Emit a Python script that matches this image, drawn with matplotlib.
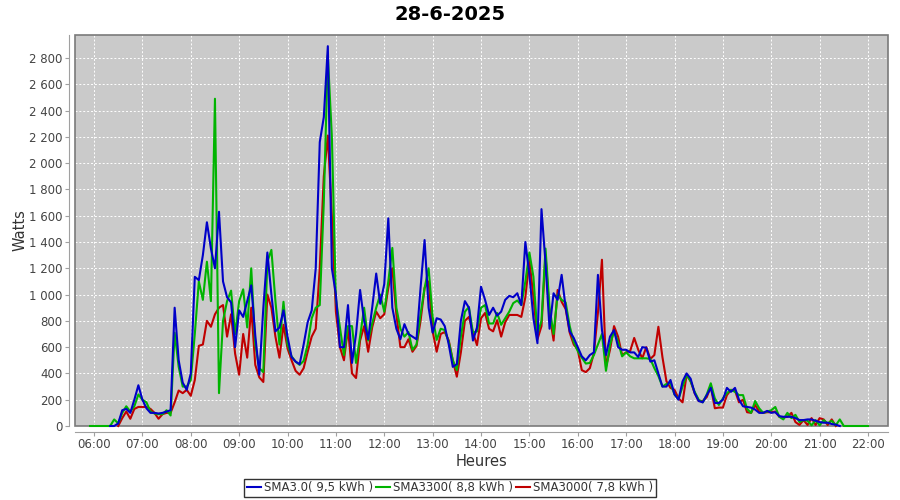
import numpy as np
import matplotlib
matplotlib.use("Agg")
import matplotlib.pyplot as plt
from matplotlib.patches import Rectangle
from matplotlib.ticker import FuncFormatter, MultipleLocator

title = "28-6-2025"
labels = ["SMA3.0( 9,5 kWh )", "SMA3300( 8,8 kWh )", "SMA3000( 7,8 kWh )"]
colors = ["#0000c8", "#00b400", "#c00000"]

# 5-minute samples, first sample at the start time (hours)
blue_start = 6 + 20 / 60
blue = [0, 0, 20, 120, 130, 100, 200, 310,
        200, 135, 100, 100, 95, 100, 110, 120, 900, 500, 330, 275,
        400, 1135, 1110, 1300, 1550, 1350, 1200, 1630, 1100, 980, 940, 600,
        880, 830, 950, 1070, 690, 390, 900, 1320, 1000, 720, 750, 880,
        680, 525, 490, 470, 620, 790, 880, 1200, 2160, 2350, 2890, 1200,
        1000, 600, 600, 920, 480, 700, 1035, 800, 660, 900, 1160, 930,
        1080, 1580, 900, 740, 660, 775, 700, 680, 660, 1050, 1415, 900,
        710, 820, 810, 760, 620, 450, 470, 800, 950, 900, 650, 750,
        1060, 960, 845, 900, 840, 870, 960, 990, 980, 1010, 920, 1400,
        1150, 820, 630, 1650, 1240, 740, 1010, 960, 1150, 900, 720, 670,
        600, 530, 500, 540, 560, 1150, 730, 540, 680, 730, 600, 580,
        580, 560, 560, 525, 600, 595, 490, 500, 400, 300, 300, 350,
        240, 200, 340, 400, 360, 250, 190, 180, 235, 290, 175, 175,
        200, 290, 260, 290, 200, 150, 145, 140, 125, 100, 100, 115,
        100, 105, 75, 70, 70, 70, 60, 45, 45, 50, 50, 40,
        30, 25, 25, 15, 10, 0]

green_start = 5 + 55 / 60
green = [0,
         0, 0, 0, 0, 0, 50, 20, 100, 150, 110, 150, 240,
         200, 180, 110, 95, 90, 90, 120, 80, 710, 450, 300, 300,
         350, 700, 1100, 960, 1250, 950, 2490, 250, 800, 950, 1030, 700,
         950, 1040, 750, 1200, 620, 440, 410, 1250, 1340, 950, 620, 945,
         620, 530, 490, 465, 495, 620, 820, 900, 920, 1700, 2820, 2200,
         970, 750, 540, 760, 760, 480, 680, 900, 650, 780, 900, 1000,
         870, 1100, 1355, 900, 740, 680, 715, 580, 620, 850, 1050, 1200,
         830, 655, 740, 730, 640, 500, 425, 680, 870, 905, 710, 720,
         900, 920, 780, 780, 860, 770, 820, 870, 935, 955, 920, 1100,
         1320, 1135, 700, 800, 1350, 900, 700, 1000, 960, 940, 760, 640,
         570, 520, 475, 480, 540, 620, 700, 420, 620, 720, 640, 530,
         560, 530, 515, 515, 515, 515, 510, 440, 380, 300, 320, 325,
         240, 205, 300, 390, 340, 260, 200, 180, 240, 325, 210, 160,
         210, 250, 275, 260, 235, 235, 130, 100, 190, 135, 100, 110,
         120, 145, 70, 50, 100, 60, 85, 30, 45, 40, 5, 45,
         5, 45, 20, 40, 5, 50, 0, 0, 0, 0, 0, 0,
         0]

red_start = 6 + 30 / 60
red = [0, 60, 110, 55, 130, 145,
       145, 145, 130, 100, 55, 90, 100, 100, 180, 270, 250, 275,
       230, 350, 610, 620, 800, 755, 850, 900, 920, 680, 850, 550,
       390, 700, 520, 900, 465, 370, 335, 1000, 900, 680, 520, 770,
       590, 500, 420, 390, 440, 565, 680, 740, 1200, 1900, 2210, 1600,
       870, 600, 500, 745, 400, 365, 650, 760, 565, 750, 870, 820,
       850, 1050, 1200, 850, 600, 600, 660, 565, 610, 800, 1050, 1100,
       720, 565, 700, 715, 650, 500, 375, 560, 800, 830, 710, 615,
       820, 860, 740, 720, 805, 680, 790, 845, 845, 845, 830, 980,
       1265, 980, 660, 760, 1300, 850, 650, 1035, 945, 890, 710, 620,
       580, 425, 410, 440, 555, 860, 1265, 450, 580, 760, 680, 540,
       560, 570, 670, 580, 515, 600, 510, 540, 755, 525, 340, 290,
       275, 210, 180, 390, 340, 250, 190, 190, 220, 300, 135, 140,
       140, 235, 275, 270, 180, 200, 105, 100, 160, 110, 100, 105,
       105, 110, 70, 65, 70, 100, 30, 8, 45, 8, 60, 8,
       60, 50, 8, 50, 0]

hour_ticks = list(range(6, 23))


def times(start, values):
    return start + np.arange(len(values)) * 5 / 60


fig = plt.figure(figsize=(9, 5), dpi=100)
ax = fig.add_axes([75 / 900, 74 / 500, 813 / 900, 391 / 500])
ax.set_facecolor("#cacaca")

series = [(blue_start, blue), (green_start, green), (red_start, red)]
for i in [2, 1, 0]:
    start, vals = series[i]
    # all values lie inside the limits; no clipping so the zero runs stay visible
    ax.plot(times(start, vals), vals, color=colors[i], lw=1.5,
            label=labels[i], zorder=3 + (2 - i), solid_joinstyle="round",
            clip_on=False)

ax.set_xlim(5 + 36.4 / 60, 22 + 24.8 / 60)
ax.set_ylim(0, 2975)
ax.set_xticks(hour_ticks)
ax.set_xticklabels([f"{h:02d}:00" for h in hour_ticks])
ax.yaxis.set_major_locator(MultipleLocator(200))
ax.yaxis.set_major_formatter(FuncFormatter(lambda v, p: f"{int(v):,}".replace(",", " ")))

ax.grid(True, color="white", ls=(0, (2, 2)), lw=0.7)
ax.set_axisbelow(True)

# outline of the plot area + separate axis lines
for s in ["top", "right"]:
    ax.spines[s].set_visible(False)
for s in ["left", "bottom"]:
    ax.spines[s].set_position(("outward", 4))
    ax.spines[s].set_color("#a0a0a0")
ax.add_patch(Rectangle((0, 0), 1, 1, transform=ax.transAxes, fill=False,
                       ec="#7a7a7a", lw=1.2, zorder=2.5, clip_on=False))

ax.tick_params(axis="both", colors="#a0a0a0", labelcolor="#444444",
               labelsize=8.5, length=3, width=0.8, pad=2)

ax.set_xlabel("Heures", fontsize=10.5, color="#333333", labelpad=2)
ax.set_ylabel("Watts", fontsize=10.5, color="#333333")
ax.yaxis.set_label_coords(-0.058, 0.5)
fig.suptitle(title, x=0.5, y=0.99, fontsize=14, fontweight="bold")

handles, labs = ax.get_legend_handles_labels()
order = [labs.index(l) for l in labels]
leg = fig.legend([handles[k] for k in order], labels, loc="center",
                 bbox_to_anchor=(450 / 900, 1 - 488 / 500), ncol=3,
                 frameon=True, fancybox=False, edgecolor="black",
                 fontsize=8.5, handlelength=1.2, handletextpad=0.2,
                 columnspacing=0.3, borderpad=0.25, borderaxespad=0)
leg.get_frame().set_linewidth(1.0)
for t in leg.get_texts():
    t.set_color("#333333")

fig.savefig("out.png", dpi=100, facecolor="white")
